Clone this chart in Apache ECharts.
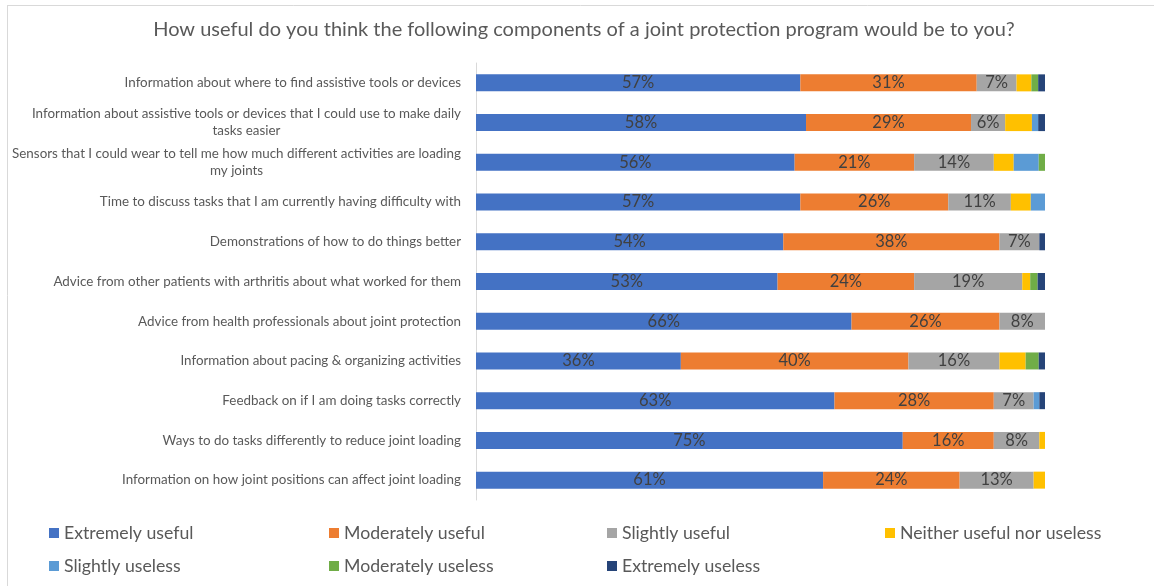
<!DOCTYPE html>
<html>
<head>
<meta charset="utf-8">
<script src="https://cdn.jsdelivr.net/npm/echarts@6/dist/echarts.min.js"></script>
<style>
  html, body { margin: 0; padding: 0; background: #ffffff; }
  #chart { width: 1154px; height: 586px; }
</style>
</head>
<body>
<div id="chart"></div>
<script>
// Survey items, listed top to bottom
const categories = [
  'Information about where to find assistive tools or devices',
  'Information about assistive tools or devices that I could use to make daily tasks easier',
  'Sensors that I could wear to tell me how much different activities are loading my joints',
  'Time to discuss tasks that I am currently having difficulty with',
  'Demonstrations of how to do things better',
  'Advice from other patients with arthritis about what worked for them',
  'Advice from health professionals about joint protection',
  'Information about pacing & organizing activities',
  'Feedback on if I am doing tasks correctly',
  'Ways to do tasks differently to reduce joint loading',
  'Information on how joint positions can affect joint loading'
];

// Share of respondents (%) for each answer, same order as categories
const extremelyUseful   = [57, 58, 56, 57, 54, 53, 66, 36, 63, 75, 61];
const moderatelyUseful  = [31, 29, 21, 26, 38, 24, 26, 40, 28, 16, 24];
const slightlyUseful    = [7, 6, 14, 11, 7, 19, 8, 16, 7, 8, 13];
const neitherUseful     = [2.6, 4.7, 3.5, 3.5, 0, 1.4, 0, 4.6, 0, 1.0, 2.0];
const slightlyUseless   = [0, 1.1, 4.4, 2.5, 0, 0, 0, 0, 1.0, 0, 0];
const moderatelyUseless = [1.2, 0, 1.1, 0, 0, 1.3, 0, 2.3, 0, 0, 0];
const extremelyUseless  = [1.2, 1.2, 0, 0, 1.0, 1.3, 0, 1.1, 1.0, 0, 0];

const answerNames = [
  'Extremely useful', 'Moderately useful', 'Slightly useful', 'Neither useful nor useless',
  'Slightly useless', 'Moderately useless', 'Extremely useless'
];
const answerValues = [
  extremelyUseful, moderatelyUseful, slightlyUseful, neitherUseful,
  slightlyUseless, moderatelyUseless, extremelyUseless
];
const answerColors = ['#4472C4', '#ED7D31', '#A5A5A5', '#FFC000', '#5B9BD5', '#70AD47', '#264478'];
const labelledAnswers = 3;

const FONT = 'Lato, "Open Sans", sans-serif';

// Wrap long category names and centre the wrapped lines
function wrapLabel(text) {
  const maxChars = 78;
  const words = text.split(' ');
  const lines = [];
  let cur = '';
  words.forEach(w => {
    const next = cur ? cur + ' ' + w : w;
    if (next.length > maxChars && cur) { lines.push(cur); cur = w; }
    else { cur = next; }
  });
  if (cur) lines.push(cur);
  return lines.map(l => '{c|' + l + '}').join('\n');
}

// Legend laid out as a 4-column grid
const legendCols = [49, 329, 607, 885];
const legendRows = [524, 557];
const legends = answerNames.map((name, i) => ({
  data: [name],
  left: legendCols[i % 4],
  top: legendRows[Math.floor(i / 4)],
  padding: 0,
  icon: 'rect',
  itemWidth: 10,
  itemHeight: 10,
  textStyle: { fontFamily: FONT, fontSize: 17.7, color: '#595959' },
  selectedMode: false
}));

const series = answerNames.map((name, i) => ({
  name: name,
  type: 'bar',
  stack: 'total',
  barWidth: 17,
  data: answerValues[i],
  itemStyle: { color: answerColors[i] },
  label: {
    show: i < labelledAnswers,
    position: 'inside',
    formatter: p => p.value + '%',
    fontFamily: FONT,
    fontSize: 16.5,
    color: '#404040'
  },
  emphasis: { disabled: true }
}));

const chart = echarts.init(document.getElementById('chart'), null, { renderer: 'canvas' });
chart.setOption({
  animation: false,
  backgroundColor: '#ffffff',
  title: {
    text: 'How useful do you think the following components of a joint protection program would be to you?',
    left: 579,
    textAlign: 'center',
    top: 15,
    textStyle: { fontFamily: FONT, fontSize: 20, fontWeight: 'normal', color: '#595959' }
  },
  graphic: [
    { type: 'line', shape: { x1: 7, y1: 5.5, x2: 1154, y2: 5.5 }, style: { stroke: '#d9d9d9', lineWidth: 1 } },
    { type: 'line', shape: { x1: 7.5, y1: 5, x2: 7.5, y2: 586 }, style: { stroke: '#d9d9d9', lineWidth: 1 } }
  ],
  legend: legends,
  grid: { left: 476, right: 109, top: 63, bottom: 86, containLabel: false },
  xAxis: {
    type: 'value',
    min: 0,
    max: 100,
    show: false
  },
  yAxis: {
    type: 'category',
    data: categories,
    inverse: true,
    axisLine: { show: true, lineStyle: { color: '#d9d9d9', width: 1 } },
    axisTick: { show: false },
    axisLabel: {
      margin: 15,
      formatter: wrapLabel,
      rich: {
        c: { align: 'center', fontFamily: FONT, fontSize: 13.4, color: '#595959', lineHeight: 17 }
      }
    }
  },
  series: series
});
</script>
</body>
</html>
